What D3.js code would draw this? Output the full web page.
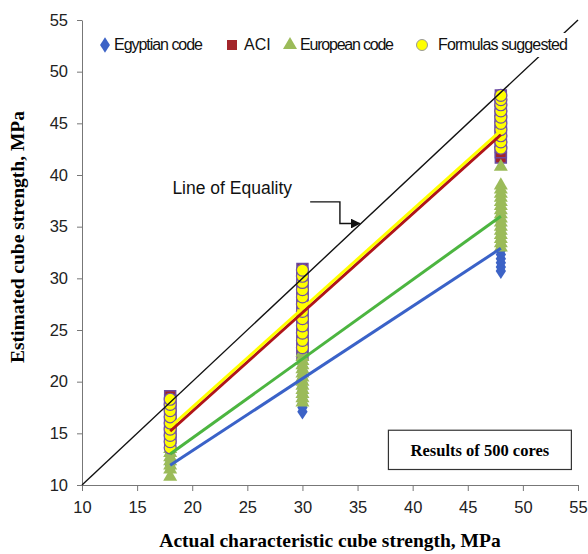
<!DOCTYPE html>
<html>
<head>
<meta charset="utf-8">
<script src="https://cdnjs.cloudflare.com/ajax/libs/d3/7.8.5/d3.min.js"></script>
<style>
    body { margin: 0; background: #fff; }
    .tick text { font-family: "Liberation Sans", Arial, sans-serif; font-size: 16.5px; fill: #222; }
    .axis path, .axis line { stroke: #777; }
</style>
</head>
<body>
<div id="chart"></div>
<script>
// x positions of the three core groups
var xGroups = [18, 30, 48];

// estimated strengths read per group (18, 30, 48)
var egyptianValues = [
    [11.6, 11.9, 12.2, 12.5, 12.8, 13.1, 13.4],
    [17.1, 17.5, 17.9, 18.3, 18.7, 19.1, 19.5, 19.9, 20.3, 20.7, 21.1, 21.5, 21.9],
    [30.7, 31.1, 31.5, 31.9, 32.3, 32.7, 33.1, 33.5, 33.9, 34.3, 34.7, 35.1, 35.5, 35.9, 36.3]
];
var aciValues = [
    [14.2, 14.6, 15.0, 15.4, 15.8, 16.2, 16.6, 17.0, 17.4, 17.8, 18.2, 18.6],
    [22.6, 23.2, 23.8, 24.4, 25.0, 25.6, 26.2, 26.8, 27.4, 28.0, 28.6, 29.2, 29.8, 30.4, 30.9],
    [41.7, 42.2, 42.7, 43.2, 43.7, 44.2, 44.7, 45.2, 45.7, 46.2, 46.7, 47.2, 47.7]
];
var europeanValues = [
    [10.8, 11.5, 11.9, 12.3, 12.7, 13.1, 13.5],
    [18.0, 18.4, 18.8, 19.2, 19.6, 20.0, 20.4, 20.8, 21.2, 21.6, 22.0, 22.4, 22.8],
    [33.0, 33.4, 33.8, 34.2, 34.6, 35.0, 35.4, 35.8, 36.2, 36.6, 37.0, 37.4, 37.8, 38.2, 38.6, 39.0, 40.8]
];
var formulaValues = [
    [13.6, 14.2, 14.8, 15.4, 16.0, 16.6, 17.2, 17.8, 18.3],
    [23.3, 24.0, 24.7, 25.4, 26.1, 26.8, 27.5, 28.2, 28.9, 29.6, 30.2, 30.8],
    [42.6, 43.2, 43.8, 44.4, 45.0, 45.6, 46.2, 46.8, 47.3, 47.7]
];

// trend line values at x = 18 and x = 48
var trendX = [18, 48];
var egyptianTrend = [11.9, 32.9];
var europeanTrend = [13.0, 36.0];
var aciTrend = [15.3, 44.0];
var formulaTrend = [15.6, 44.3];

// line of equality and its label arrow
var equalityLine = [10, 55];
var arrowX = [30.7, 33.4, 33.4, 35.2];
var arrowY = [37.4, 37.4, 35.3, 35.3];

var xTicks = [10, 15, 20, 25, 30, 35, 40, 45, 50, 55];
var yTicks = [10, 15, 20, 25, 30, 35, 40, 45, 50, 55];

var legendLabels = ['Egyptian code', 'ACI', 'European code', 'Formulas suggested'];

function ScatterChart()
{
    var self = this;
    self.init();
}

ScatterChart.prototype.init = function()
{
    var self = this;
    self.width = 588;
    self.height = 554;
    self.svg = d3.select('#chart').append('svg')
        .attr('width', self.width)
        .attr('height', self.height);
};

ScatterChart.prototype.update = function()
{
    var self = this;
    var svg = self.svg;

    var x = d3.scaleLinear().domain([10, 55]).range([82, 578]);
    var y = d3.scaleLinear().domain([10, 55]).range([485, 20]);

    // Axes (left and bottom only)
    svg.append('g')
        .attr('class', 'axis')
        .attr('transform', 'translate(0,' + y(10) + ')')
        .call(d3.axisBottom(x).tickValues(xTicks).tickSize(6).tickPadding(10).tickSizeOuter(0));

    svg.append('g')
        .attr('class', 'axis')
        .attr('transform', 'translate(' + x(10) + ',0)')
        .call(d3.axisLeft(y).tickValues(yTicks).tickSize(5).tickPadding(9).tickSizeOuter(0));

    // flatten grouped values into points
    function toPoints(groups) {
        var pts = [];
        groups.forEach(function(vals, i) {
            vals.forEach(function(v) { pts.push({x: xGroups[i], y: v}); });
        });
        return pts;
    }

    var diamond = d3.symbol().type(d3.symbolDiamond).size(70);
    var square = d3.symbol().type(d3.symbolSquare).size(120);
    var triangle = d3.symbol().type(d3.symbolTriangle).size(85);

    svg.append('g').selectAll('path')
        .data(toPoints(egyptianValues)).enter().append('path')
        .attr('d', diamond)
        .attr('transform', function(d) { return 'translate(' + x(d.x) + ',' + y(d.y) + ') scale(1.15,1)'; })
        .style('fill', '#3d63c6');

    svg.append('g').selectAll('path')
        .data(toPoints(aciValues)).enter().append('path')
        .attr('d', square)
        .attr('transform', function(d) { return 'translate(' + x(d.x) + ',' + y(d.y) + ')'; })
        .style('fill', '#a3262b')
        .style('stroke', '#6a4aa2')
        .style('stroke-width', 1.5);

    svg.append('g').selectAll('path')
        .data(toPoints(europeanValues)).enter().append('path')
        .attr('d', triangle)
        .attr('transform', function(d) { return 'translate(' + x(d.x) + ',' + y(d.y) + ')'; })
        .style('fill', '#9bbb59');

    svg.append('g').selectAll('circle')
        .data(toPoints(formulaValues)).enter().append('circle')
        .attr('cx', function(d) { return x(d.x); })
        .attr('cy', function(d) { return y(d.y); })
        .attr('r', 6)
        .style('fill', '#ffff00')
        .style('stroke', '#7050a8')
        .style('stroke-width', 1.2);

    // Line of equality
    svg.append('line')
        .attr('x1', x(equalityLine[0])).attr('y1', y(equalityLine[0]))
        .attr('x2', x(equalityLine[1])).attr('y2', y(equalityLine[1]))
        .style('stroke', '#111')
        .style('stroke-width', 1.4);

    // Trend lines
    var trends = [
        {v: egyptianTrend, c: '#3a62c8'},
        {v: europeanTrend, c: '#4cb540'},
        {v: aciTrend, c: '#b0151a'},
        {v: formulaTrend, c: '#ffff00'}
    ];
    trends.forEach(function(t, i) {
        svg.append('line')
            .attr('x1', x(trendX[0])).attr('y1', y(t.v[0]) + (i === 2 ? 1 : 0))
            .attr('x2', x(trendX[1])).attr('y2', y(t.v[1]) + (i === 2 ? 1 : 0))
            .style('stroke', t.c)
            .style('stroke-width', 3);
    });

    // Arrow with label
    svg.append('defs').append('marker')
        .attr('id', 'arrow')
        .attr('viewBox', '0 0 10 10')
        .attr('refX', 9).attr('refY', 5)
        .attr('markerWidth', 7).attr('markerHeight', 7)
        .attr('orient', 'auto')
        .append('path')
        .attr('d', 'M0,0 L10,5 L0,10 Z')
        .style('fill', '#111');

    var arrowLine = d3.line()
        .x(function(d, i) { return x(arrowX[i]); })
        .y(function(d, i) { return y(arrowY[i]); });
    svg.append('path')
        .attr('d', arrowLine(arrowX))
        .attr('marker-end', 'url(#arrow)')
        .style('fill', 'none')
        .style('stroke', '#111')
        .style('stroke-width', 1.4);

    svg.append('text')
        .attr('x', x(18.2)).attr('y', y(38.2))
        .style('font-family', '"Liberation Sans", Arial, sans-serif')
        .style('font-size', '17.5px')
        .style('fill', '#111')
        .text('Line of Equality');

    // Results box
    svg.append('rect')
        .attr('x', x(37.8)).attr('y', y(15.3))
        .attr('width', x(54.4) - x(37.8)).attr('height', y(11.5) - y(15.3))
        .style('fill', '#fff')
        .style('stroke', '#333')
        .style('stroke-width', 1.2);
    svg.append('text')
        .attr('x', (x(37.8) + x(54.4)) / 2).attr('y', y(13.4) + 6)
        .attr('text-anchor', 'middle')
        .style('font-family', '"Liberation Serif", "Times New Roman", serif')
        .style('font-weight', 'bold')
        .style('font-size', '16.5px')
        .text('Results of 500 cores');

    // Legend
    var legend = svg.append('g');
    legend.append('rect')
        .attr('x', 95).attr('y', 33).attr('width', 476).attr('height', 24)
        .style('fill', '#fff');
    var lx = [105, 232, 290, 422];
    var tx = [114, 244, 300, 438];
    var ly = 45;
    legend.append('path').attr('d', diamond)
        .attr('transform', 'translate(' + lx[0] + ',' + ly + ') scale(1.1,1)')
        .style('fill', '#3d63c6');
    legend.append('path').attr('d', d3.symbol().type(d3.symbolSquare).size(100))
        .attr('transform', 'translate(' + lx[1] + ',' + ly + ')')
        .style('fill', '#a3262b');
    legend.append('path').attr('d', triangle)
        .attr('transform', 'translate(' + lx[2] + ',' + ly + ')')
        .style('fill', '#9bbb59');
    legend.append('circle')
        .attr('cx', lx[3]).attr('cy', ly).attr('r', 5.5)
        .style('fill', '#ffff00')
        .style('stroke', '#999')
        .style('stroke-width', 1);
    legend.selectAll('text.leg')
        .data(legendLabels).enter().append('text')
        .attr('class', 'leg')
        .attr('x', function(d, i) { return tx[i]; })
        .attr('y', ly + 5)
        .attr('textLength', function(d, i) { return [89, null, 94, 130][i]; })
        .style('font-family', '"Liberation Sans", Arial, sans-serif')
        .style('font-size', '16px')
        .style('fill', '#111')
        .text(function(d) { return d; });

    // Axis titles
    svg.append('text')
        .attr('x', 330).attr('y', 547)
        .attr('text-anchor', 'middle')
        .style('font-family', '"Liberation Serif", "Times New Roman", serif')
        .style('font-weight', 'bold')
        .style('font-size', '19.5px')
        .text('Actual characteristic cube strength, MPa');

    svg.append('text')
        .attr('transform', 'translate(24,237) rotate(-90)')
        .attr('text-anchor', 'middle')
        .style('font-family', '"Liberation Serif", "Times New Roman", serif')
        .style('font-weight', 'bold')
        .style('font-size', '19.5px')
        .text('Estimated cube strength, MPa');
};

var chart = new ScatterChart();
chart.update();
</script>
</body>
</html>
